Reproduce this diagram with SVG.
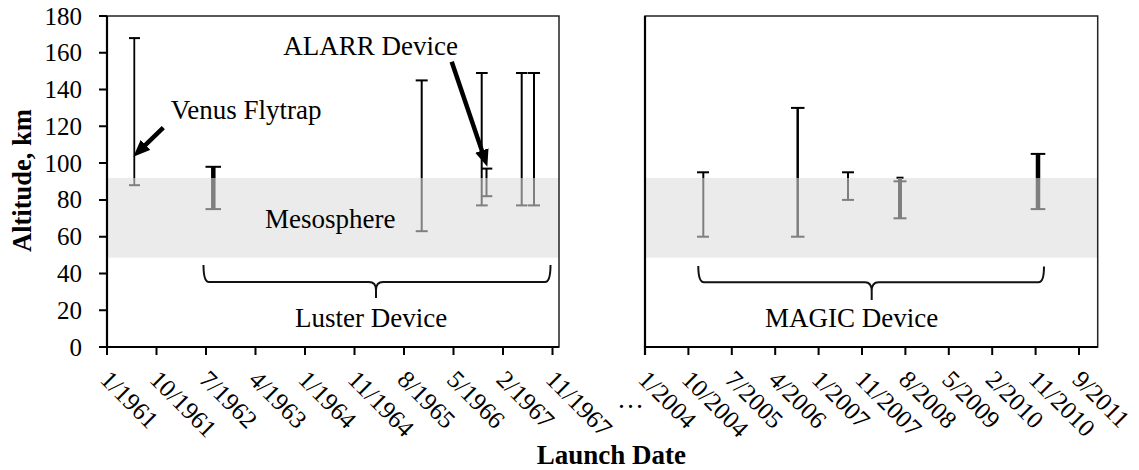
<svg xmlns="http://www.w3.org/2000/svg" width="1139" height="470" viewBox="0 0 1139 470">
<style>
text{font-family:"Liberation Serif","Times New Roman",serif;fill:#000}
.lbl{font-family:"Liberation Serif","Times New Roman",serif;font-size:25px}
.ann{font-size:27px}
.ttl{font-size:27px;font-weight:bold}
.ytl{font-size:26.5px;font-weight:bold}
.band{fill:#ebebeb}
.frame{fill:none;stroke:#222;stroke-width:1.5}
.axis{stroke:#000;stroke-width:2.2;fill:none}
.tk{stroke:#000;stroke-width:2}
.bk{stroke:#000;fill:none}
.gy{stroke:#7f7f7f;fill:none}
.cap{stroke-width:2}
.brace{fill:none;stroke:#111;stroke-width:2}
.arr{stroke:#000;stroke-width:4.5;fill:none}
</style>
<defs>
<marker id="ah" viewBox="0 0 10 10" refX="3" refY="5" markerWidth="17" markerHeight="14" markerUnits="userSpaceOnUse" orient="auto" preserveAspectRatio="none">
<path d="M0,0 L10,5 L0,10 z" fill="#000"/>
</marker>
</defs>

<!-- left plot -->
<g id="plot-left">
<rect class="band" x="107" y="178" width="452" height="79.7"/>
<rect class="frame" x="107" y="16" width="452" height="331"/>
<path class="axis" d="M107,16 V347 H559"/>
<g class="tk">
<path d="M99,16H107 M99,52.8H107 M99,89.6H107 M99,126.3H107 M99,163.1H107 M99,199.9H107 M99,236.7H107 M99,273.4H107 M99,310.2H107 M99,347H107"/>
<path d="M107,347V355 M156.5,347V355 M206,347V355 M255.5,347V355 M305,347V355 M354.5,347V355 M404,347V355 M453.5,347V355 M503,347V355 M552.5,347V355"/>
</g>
<g text-anchor="end">
<text class="lbl" x="82" y="24.5">180</text>
<text class="lbl" x="82" y="61.3">160</text>
<text class="lbl" x="82" y="98.1">140</text>
<text class="lbl" x="82" y="134.8">120</text>
<text class="lbl" x="82" y="171.6">100</text>
<text class="lbl" x="82" y="208.4">80</text>
<text class="lbl" x="82" y="245.2">60</text>
<text class="lbl" x="82" y="281.9">40</text>
<text class="lbl" x="82" y="318.7">20</text>
<text class="lbl" x="82" y="355.5">0</text>
</g>
<g>
<text class="lbl" transform="translate(99,381) rotate(45)">1/1961</text>
<text class="lbl" transform="translate(148.5,381) rotate(45)">10/1961</text>
<text class="lbl" transform="translate(198,381) rotate(45)">7/1962</text>
<text class="lbl" transform="translate(247.5,381) rotate(45)">4/1963</text>
<text class="lbl" transform="translate(297,381) rotate(45)">1/1964</text>
<text class="lbl" transform="translate(346.5,381) rotate(45)">11/1964</text>
<text class="lbl" transform="translate(396,381) rotate(45)">8/1965</text>
<text class="lbl" transform="translate(445.5,381) rotate(45)">5/1966</text>
<text class="lbl" transform="translate(495,381) rotate(45)">2/1967</text>
<text class="lbl" transform="translate(544.5,381) rotate(45)">11/1967</text>
</g>
</g>

<!-- right plot -->
<g id="plot-right">
<rect class="band" x="645" y="178" width="452.7" height="79.7"/>
<rect class="frame" x="645" y="16" width="452.7" height="331"/>
<path class="axis" d="M645,355 V347 H1097.7"/>
<path class="axis" d="M645,16 V347" stroke-width="2"/>
<g class="tk">
<path d="M688.4,347V355 M731.8,347V355 M775.2,347V355 M818.6,347V355 M862,347V355 M905.4,347V355 M948.8,347V355 M992.2,347V355 M1035.6,347V355 M1079,347V355"/>
</g>
<g>
<text class="lbl" transform="translate(637,381) rotate(45)">1/2004</text>
<text class="lbl" transform="translate(680.4,381) rotate(45)">10/2004</text>
<text class="lbl" transform="translate(723.8,381) rotate(45)">7/2005</text>
<text class="lbl" transform="translate(767.2,381) rotate(45)">4/2006</text>
<text class="lbl" transform="translate(810.6,381) rotate(45)">1/2007</text>
<text class="lbl" transform="translate(854,381) rotate(45)">11/2007</text>
<text class="lbl" transform="translate(897.4,381) rotate(45)">8/2008</text>
<text class="lbl" transform="translate(940.8,381) rotate(45)">5/2009</text>
<text class="lbl" transform="translate(984.2,381) rotate(45)">2/2010</text>
<text class="lbl" transform="translate(1027.6,381) rotate(45)">11/2010</text>
<text class="lbl" transform="translate(1071,381) rotate(45)">9/2011</text>
</g>
</g>

<!-- error bars left -->
<g id="bar-venus">
<path class="bk" stroke-width="1.8" d="M134.3,38.1V178"/>
<path class="gy" stroke-width="1.8" d="M134.3,178V185.2"/>
<path class="bk cap" d="M129,38.1H140"/>
<path class="gy cap" d="M129,185.2H140"/>
</g>
<g id="bar-1962">
<path class="bk" stroke-width="4.5" d="M213.3,166.8V178"/>
<path class="gy" stroke-width="4.5" d="M213.3,178V209.1"/>
<path class="bk cap" d="M205.5,166.8H221"/>
<path class="gy cap" d="M205.5,209.1H221"/>
</g>
<g id="bar-1965">
<path class="bk" stroke-width="2" d="M421.7,80.4V178"/>
<path class="gy" stroke-width="2" d="M421.7,178V231.2"/>
<path class="bk cap" d="M415.7,80.4H427.7"/>
<path class="gy cap" d="M415.7,231.2H427.7"/>
</g>
<g id="bar-1966a">
<path class="bk" stroke-width="2" d="M481.7,73V178"/>
<path class="gy" stroke-width="2" d="M481.7,178V205.4"/>
<path class="bk cap" d="M476,73H487.7"/>
<path class="gy cap" d="M476,205.4H487.7"/>
</g>
<g id="bar-alarr">
<path class="bk" stroke-width="2" d="M486.5,168.6V178"/>
<path class="gy" stroke-width="2" d="M486.5,178V196.2"/>
<path class="bk cap" d="M481,168.6H492.3"/>
<path class="gy cap" d="M481,196.2H492.3"/>
</g>
<g id="bar-1967a">
<path class="bk" stroke-width="2" d="M521.7,73V178"/>
<path class="gy" stroke-width="2" d="M521.7,178V205.4"/>
<path class="bk cap" d="M516,73H527.5"/>
<path class="gy cap" d="M516,205.4H527.5"/>
</g>
<g id="bar-1967b">
<path class="bk" stroke-width="2" d="M534,73V178"/>
<path class="gy" stroke-width="2" d="M534,178V205.4"/>
<path class="bk cap" d="M528,73H540"/>
<path class="gy cap" d="M528,205.4H540"/>
</g>

<!-- error bars right -->
<g id="bar-2004">
<path class="bk" stroke-width="2" d="M703.3,172.3V178"/>
<path class="gy" stroke-width="2" d="M703.3,178V236.7"/>
<path class="bk cap" d="M697,172.3H709"/>
<path class="gy cap" d="M697,236.7H709"/>
</g>
<g id="bar-2006">
<path class="bk" stroke-width="2.5" d="M797.7,107.9V178"/>
<path class="gy" stroke-width="2.5" d="M797.7,178V236.7"/>
<path class="bk cap" d="M791,107.9H804.5"/>
<path class="gy cap" d="M791,236.7H804.5"/>
</g>
<g id="bar-2007">
<path class="bk" stroke-width="2" d="M848,172.3V178"/>
<path class="gy" stroke-width="2" d="M848,178V199.9"/>
<path class="bk cap" d="M842,172.3H854"/>
<path class="gy cap" d="M842,199.9H854"/>
</g>
<g id="bar-2008">
<path class="bk cap" d="M896.5,177.7H903.5"/>
<path class="gy" stroke-width="4" d="M900,178V218.3"/>
<path class="gy cap" d="M893.5,181.3H906.5"/>
<path class="gy cap" d="M893.5,218.3H906.5"/>
</g>
<g id="bar-2010">
<path class="bk" stroke-width="4.5" d="M1038,153.9V178"/>
<path class="gy" stroke-width="4.5" d="M1038,178V209.1"/>
<path class="bk cap" d="M1030.7,153.9H1045.3"/>
<path class="gy cap" d="M1030.7,209.1H1045.3"/>
</g>

<!-- annotations -->
<g id="label-mesosphere"><text class="ann" x="265" y="227.7">Mesosphere</text></g>
<g id="label-venus"><text class="ann" x="170.7" y="119">Venus Flytrap</text></g>
<g id="label-alarr"><text class="ann" x="283.3" y="55">ALARR Device</text></g>
<g id="label-luster">
<text class="ann" x="295" y="326.7">Luster Device</text>
</g>
<g id="label-magic">
<text class="ann" x="765" y="326.7">MAGIC Device</text>
</g>
<g id="connectors">
<path class="arr" d="M163.3,127.7 L141.9,148.4" marker-end="url(#ah)"/>
<path class="arr" d="M451.7,61.7 L483.5,155.4" marker-end="url(#ah)"/>
<path class="brace" d="M203.5,265 Q203.5,282 209,282 L369,282 Q376,282 376,290 V298 M376,290 Q376,282 383,282 L545,282 Q550.5,282 550.5,265"/>
<path class="brace" d="M698.3,266 Q698.3,282.3 704,282.3 L865,282.3 Q871.7,282.3 871.7,291 V300 M871.7,291 Q871.7,282.3 878.5,282.3 L1038.5,282.3 Q1044,282.3 1044,266.5"/>
</g>

<!-- axis titles -->
<text class="ytl" transform="translate(31,252) rotate(-90)">Altitude, km</text>
<text class="ttl" x="536.7" y="464">Launch Date</text>
<text class="ann" x="617" y="408">…</text>
</svg>
